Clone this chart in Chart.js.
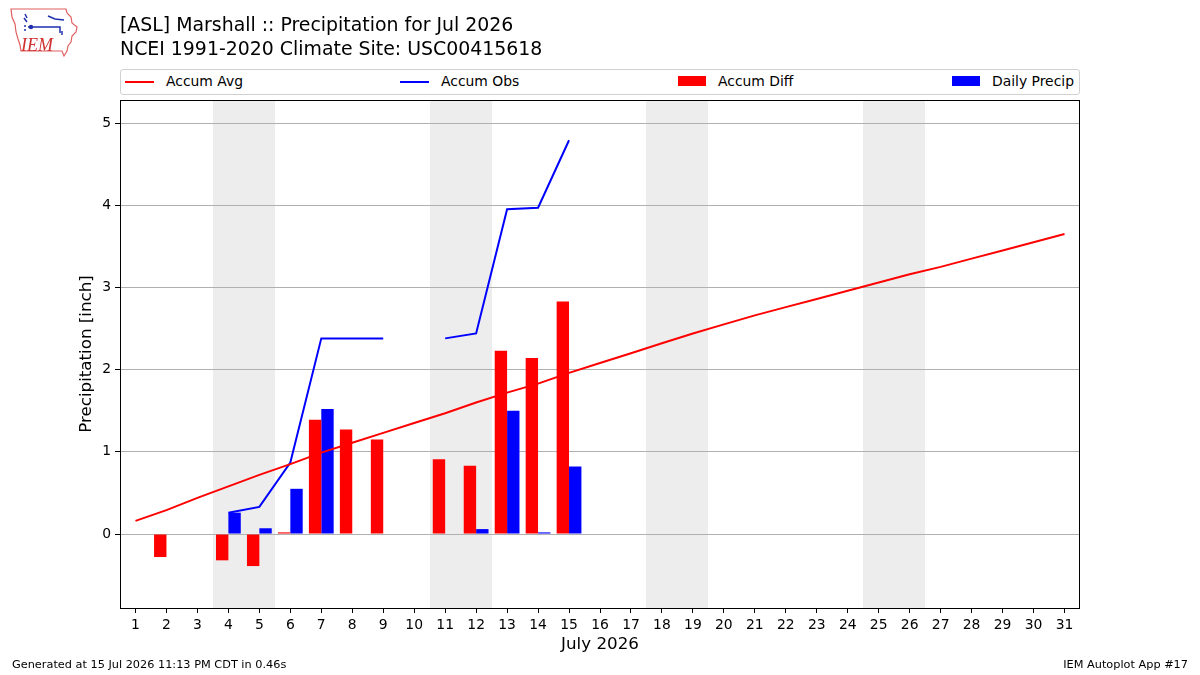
<!DOCTYPE html>
<html><head><meta charset="utf-8">
<script src="https://cdn.jsdelivr.net/npm/chart.js@4/dist/chart.umd.min.js"></script>
<style>
body{margin:0;background:#fff;}
#wrap{position:relative;width:1200px;height:675px;overflow:hidden;font-family:"DejaVu Sans",sans-serif;background:#fff;}
#c{position:absolute;left:0;top:0;}
.t{position:absolute;white-space:nowrap;color:#000;}
#legend{position:absolute;left:120px;top:69px;width:958px;height:24px;border:1px solid #d0d0d0;border-radius:3px;background:#fff;}
.lh{position:absolute;height:2px;top:11px;width:29px;}
.ph{position:absolute;height:10px;top:6px;width:28px;}
.lt{position:absolute;top:3px;font-size:13.9px;line-height:17px;white-space:nowrap;}
</style></head><body>
<div id="wrap">
<canvas id="c" width="1200" height="675"></canvas>
<svg style="position:absolute;left:0;top:0" width="90" height="62" viewBox="0 0 90 62">
  <path d="M11,9 L66,9 L67,13 L71,17 L72,23 L77,27 L76,32 L72,36 L71,42 L68,46 L67,51 L64,56 L62,51 L21,51 L20,45 L18,39 L16,32 L15,24 L12,17 Z" fill="#fff" stroke="#e06060" stroke-width="1.2"/>
  <g stroke="#1f2fb0" stroke-width="1.5" fill="none">
    <path d="M25,14 L27,18 M24,18 L27,22 M28,27 L60,27 L60,33"/>
    <path d="M48,16 L55,19 L64,20"/>
    <path d="M62,31 L62,35"/>
  </g>
  <circle cx="31" cy="27" r="2.2" fill="#1f2fb0"/>
  <circle cx="25" cy="26" r="1" fill="#1f2fb0"/>
  <circle cx="25" cy="30" r="1" fill="#1f2fb0"/>
  <text x="21" y="51" font-family="Liberation Serif" font-style="italic" font-size="18" fill="#d03030">IEM</text>
</svg>
<div class="t" style="left:120px;top:12px;font-size:18.9px;line-height:24px">[ASL] Marshall :: Precipitation for Jul 2026<br>NCEI 1991-2020 Climate Site: USC00415618</div>
<div id="legend"></div>
<div class="t" style="left:12px;top:658px;font-size:11.3px;line-height:14px">Generated at 15 Jul 2026 11:13 PM CDT in 0.46s</div>
<div class="t" style="right:12px;top:658px;font-size:11.3px;line-height:14px">IEM Autoplot App #17</div>
</div>
<script>
// ---- data ----
const dayLabels = ['1','2','3','4','5','6','7','8','9','10','11','12','13','14','15','16','17','18','19','20','21','22','23','24','25','26','27','28','29','30','31'];
const accumAvg = [0.16,0.29,0.44,0.58,0.72,0.85,0.99,1.11,1.23,1.35,1.47,1.60,1.72,1.83,1.96,2.08,2.20,2.32,2.44,2.55,2.66,2.76,2.86,2.96,3.06,3.16,3.25,3.35,3.45,3.55,3.65];
const accumObs = [null,null,null,0.26,0.33,0.87,2.38,2.38,2.38,null,2.38,2.44,3.95,3.97,4.79,null,null,null,null,null,null,null,null,null,null,null,null,null,null,null,null];
const accumDiff = [null,-0.28,null,-0.32,-0.39,0.02,1.39,1.27,1.15,null,0.91,0.83,2.23,2.14,2.83,null,null,null,null,null,null,null,null,null,null,null,null,null,null,null,null];
const dailyPrecip = [null,null,null,0.26,0.07,0.55,1.52,0,0,null,0,0.06,1.50,0.02,0.82,null,null,null,null,null,null,null,null,null,null,null,null,null,null,null,null];
const weekendDays = [4,5,11,12,18,19,25,26];
const yTicks = [0,1,2,3,4,5];
const seriesNames = ['Accum Avg','Accum Obs','Accum Diff','Daily Precip'];
const seriesColors = ['#ff0000','#0000ff','#ff0000','#0000ff'];

// ---- legend (HTML) ----
const legendPos = [[4,45],[279,320],[557,597],[831,871]];
const lg = document.getElementById('legend');
seriesNames.forEach((n,i)=>{
  const h = document.createElement('div');
  h.className = i<2 ? 'lh' : 'ph';
  h.style.left = legendPos[i][0]+'px';
  h.style.background = seriesColors[i];
  lg.appendChild(h);
  const t = document.createElement('div');
  t.className='lt'; t.style.left = legendPos[i][1]+'px'; t.textContent = n;
  lg.appendChild(t);
});

const FONT = 'DejaVu Sans';
const shadePlugin = {
  id:'shade',
  beforeDraw(chart){
    const {ctx, chartArea:a, scales:{x}} = chart;
    const w = (a.right - a.left)/dayLabels.length;
    // merge consecutive weekend days into spans
    const spans = [];
    weekendDays.forEach(d=>{
      const last = spans[spans.length-1];
      if (last && last[1] === d-1) last[1] = d; else spans.push([d,d]);
    });
    ctx.save();
    ctx.fillStyle = '#ededed';
    spans.forEach(([s,e])=>{
      const l = Math.round(x.getPixelForValue(s-1) - w/2);
      const r = Math.round(x.getPixelForValue(e-1) + w/2);
      ctx.fillRect(l, a.top, r-l, a.bottom - a.top);
    });
    ctx.restore();
  }
};
const framePlugin = {
  id:'frame',
  afterDatasetsDraw(chart){
    const {ctx, chartArea:a} = chart;
    ctx.save();
    ctx.strokeStyle = '#000'; ctx.lineWidth = 1;
    ctx.strokeRect(Math.round(a.left)+0.5, Math.round(a.top)+0.5, Math.round(a.right-a.left)-1, Math.round(a.bottom-a.top));
    ctx.restore();
  }
};

new Chart(document.getElementById('c'), {
  type:'bar',
  data:{
    labels: dayLabels,
    datasets:[
      {type:'line', label:seriesNames[0], data:accumAvg, borderColor:seriesColors[0], borderWidth:2, pointRadius:0, tension:0, fill:false, order:0},
      {type:'line', label:seriesNames[1], data:accumObs, borderColor:seriesColors[1], borderWidth:2, pointRadius:0, tension:0, fill:false, spanGaps:false, order:0},
      {type:'bar', label:seriesNames[2], data:accumDiff, backgroundColor:seriesColors[2], categoryPercentage:0.8, barPercentage:1.0, order:1},
      {type:'bar', label:seriesNames[3], data:dailyPrecip, backgroundColor:seriesColors[3], categoryPercentage:0.8, barPercentage:1.0, order:1}
    ]
  },
  options:{
    responsive:false, animation:false, devicePixelRatio:1,
    layout:{padding:{left:0, top:100, right:120, bottom:0}},
    plugins:{legend:{display:false}, tooltip:{enabled:false}, title:{display:false}},
    scales:{
      x:{
        type:'category', offset:true,
        grid:{display:true, drawOnChartArea:false, offset:false, tickLength:5, tickColor:'#000'},
        border:{display:false},
        ticks:{color:'#000', font:{family:FONT, size:13.9}, padding:4, maxRotation:0, autoSkip:false},
        title:{display:true, text:'July 2026', color:'#000', font:{family:FONT, size:16.7}, padding:{top:0, bottom:20}},
        afterFit(s){ s.height = 67; }
      },
      y:{
        type:'linear', min:-0.90, max:5.28,
        afterBuildTicks(s){ s.ticks = yTicks.map(v=>({value:v})); },
        grid:{color:'#b0b0b0', lineWidth:1, tickLength:5, tickColor:'#000'},
        border:{display:false},
        ticks:{color:'#000', font:{family:FONT, size:13.9}, padding:4, callback:v=>String(v)},
        title:{display:true, text:'Precipitation [inch]', color:'#000', font:{family:FONT, size:16.7}, padding:{top:77, bottom:0}},
        afterFit(s){ s.width = 120; }
      }
    }
  },
  plugins:[shadePlugin, framePlugin]
});
</script>
</body></html>
